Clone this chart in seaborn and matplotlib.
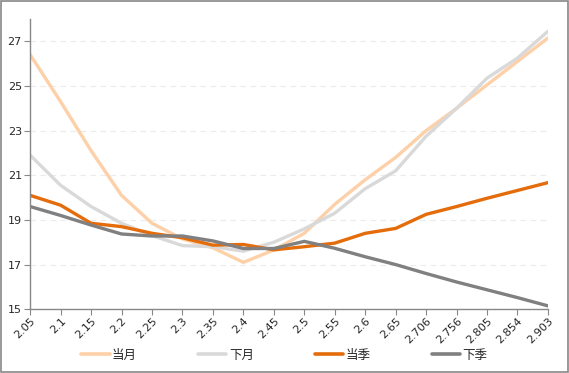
import pandas as pd
import matplotlib.pyplot as plt
import seaborn as sns

# strike prices (x axis categories)
strikes = ["2.05", "2.1", "2.15", "2.2", "2.25", "2.3", "2.35", "2.4", "2.45", "2.5",
           "2.55", "2.6", "2.65", "2.706", "2.756", "2.805", "2.854", "2.903"]

# implied vol series
cur_month = [26.4, 24.3, 22.1, 20.1, 18.85, 18.15, 17.75, 17.1, 17.65, 18.4,
             19.7, 20.8, 21.8, 23.0, 24.0, 25.05, 26.1, 27.15]
next_month = [21.9, 20.55, 19.6, 18.85, 18.3, 17.85, 17.8, 17.6, 18.0, 18.6,
              19.3, 20.4, 21.2, 22.75, 24.0, 25.35, 26.25, 27.45]
cur_season = [20.1, 19.66, 18.85, 18.7, 18.4, 18.2, 17.87, 17.9, 17.66, 17.8,
              17.96, 18.4, 18.62, 19.25, 19.6, 19.97, 20.32, 20.67]
next_season = [19.6, 19.2, 18.77, 18.37, 18.28, 18.28, 18.06, 17.72, 17.72, 18.04,
               17.73, 17.35, 17.0, 16.6, 16.22, 15.87, 15.52, 15.15]

series = {"当月": cur_month, "下月": next_month, "当季": cur_season, "下季": next_season}
colors = {"当月": "#FDD0A8", "下月": "#D9D9D9", "当季": "#E46C0A", "下季": "#808080"}

df = pd.concat([pd.DataFrame({"strike": strikes, "vol": v, "series": k}) for k, v in series.items()])

sns.set_style("white")
plt.rcParams["font.family"] = ["DejaVu Sans", "Noto Sans CJK SC"]

fig = plt.figure(figsize=(5.69, 3.73), dpi=100)
ax = fig.add_axes([0.053, 0.171, 0.91, 0.778])

sns.lineplot(data=df, x="strike", y="vol", hue="series", palette=colors,
             linewidth=2.4, sort=False, ax=ax, legend=False)

ax.set_xlim(0, len(strikes) - 1)
ax.set_ylim(15, 28)
ax.set_yticks([15, 17, 19, 21, 23, 25, 27])
ax.set_xlabel("")
ax.set_ylabel("")
ax.tick_params(axis="x", labelsize=8, rotation=45, length=4, color="#888888", pad=1)
ax.tick_params(axis="y", labelsize=8, length=4, color="#888888", pad=2)
for lab in ax.get_xticklabels():
    lab.set_ha("right")
    lab.set_rotation_mode("anchor")
ax.tick_params(axis="both", direction="out", left=True, bottom=True)
for s in ["top", "right"]:
    ax.spines[s].set_visible(False)
for s in ["left", "bottom"]:
    ax.spines[s].set_color("#888888")
    ax.spines[s].set_linewidth(1)
ax.yaxis.grid(True, linestyle=(0, (5, 4)), color="#EBEBEB", linewidth=0.8)
ax.set_axisbelow(True)

handles = [plt.Line2D([], [], color=colors[k], linewidth=2.6) for k in series]
fig.legend(handles, list(series.keys()), loc="center", bbox_to_anchor=(0.5, 0.048),
           ncol=4, frameon=False, handlelength=2.25, handletextpad=0.2,
           columnspacing=4.9, prop={"family": ["Noto Sans CJK SC"], "size": 9})

fig.patches.append(plt.Rectangle((0.001, 0.002), 0.997, 0.995, transform=fig.transFigure,
                                 fill=False, edgecolor="#888888", linewidth=1.2))

fig.savefig("out.png", dpi=100)
